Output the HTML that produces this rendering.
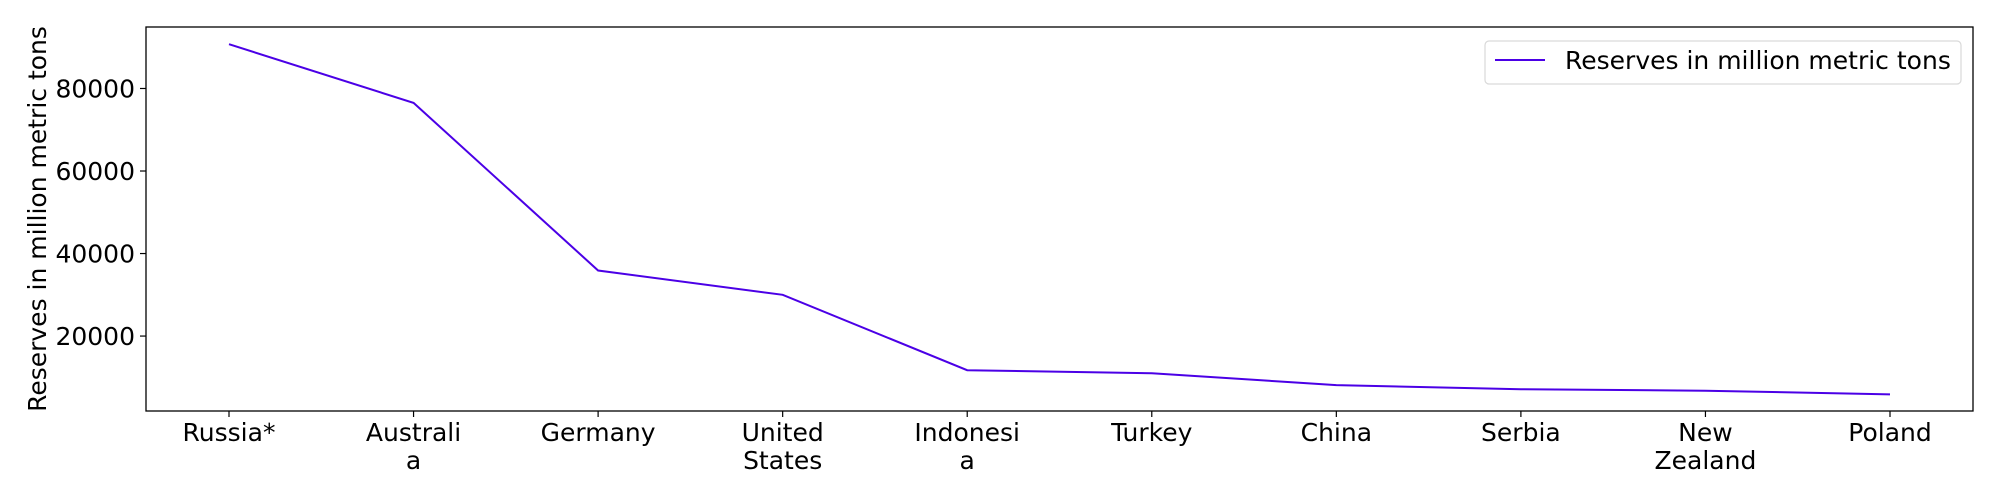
<!DOCTYPE html>
<html><head><meta charset="utf-8"><style>
body{margin:0;background:#fff;font-family:"DejaVu Sans","Liberation Sans",sans-serif;}
svg text{font-family:"DejaVu Sans","Liberation Sans",sans-serif;}
</style></head><body>
<svg id="chart" width="2000" height="500" xmlns="http://www.w3.org/2000/svg">
<rect x="0" y="0" width="2000" height="500" fill="#fff"/>
<g id="plot"></g>
</svg>
<script>
const categories=["Russia*","Australi\na","Germany","United\nStates","Indonesi\na","Turkey","China","Serbia","New\nZealand","Poland"];
const values=[90730,76508,35900,30003,11728,10975,8128,7112,6750,5865];
const yTicks=[20000,40000,60000,80000];
const yTickLabels=["20000","40000","60000","80000"];
const seriesName="Reserves in million metric tons";

const L=146,R=1973,T=27,B=411;
const x0=229,x1=1890;
const yMin=1840,yMax=94900;
function xs(i){return x0+(x1-x0)*i/(categories.length-1);}
function ys(v){return B-(v-yMin)/(yMax-yMin)*(B-T);}
const NS="http://www.w3.org/2000/svg";
const g=document.getElementById('plot');
function mk(tag,attrs,parent){const e=document.createElementNS(NS,tag);for(const k in attrs)e.setAttribute(k,attrs[k]);(parent||g).appendChild(e);return e;}

let d=values.map((v,i)=>(i?'L':'M')+xs(i).toFixed(1)+' '+ys(v).toFixed(1)).join(' ');
const line=mk('path',{d:d,fill:'none',stroke:'#4b00e6','stroke-width':2});



const fr=mk('rect',{x:L,y:T,width:R-L,height:B-T,fill:'none',stroke:'#000','stroke-width':1.3});



yTicks.forEach((v,i)=>{
  const y=ys(v);
  mk('line',{x1:L-6,x2:L,y1:y,y2:y,stroke:'#000','stroke-width':1.2});
  const t=mk('text',{x:L-11,y:y+9,'font-size':25,'text-anchor':'end',fill:'#000'});
  t.textContent=yTickLabels[i];
  
  
});
categories.forEach((c,i)=>{
  const x=xs(i);
  mk('line',{x1:x,x2:x,y1:B,y2:B+6,stroke:'#000','stroke-width':1.2});
  const t=mk('text',{x:x,y:B+30,'font-size':25,'text-anchor':'middle',fill:'#000'});
  
  
  c.split('\n').forEach((ln,j)=>{const s=mk('tspan',{x:x,dy:j?28:0},t);s.textContent=ln;});
});
const yt=mk('text',{x:0,y:0,'font-size':25,'text-anchor':'middle',fill:'#000',transform:'translate(46,219) rotate(-90)'});
yt.textContent="Reserves in million metric tons";



const lg=mk('g',{});


mk('rect',{x:1485,y:41,width:476,height:43,rx:4,fill:'#fff',stroke:'#d9d9d9','stroke-width':1.2},lg);
mk('line',{x1:1495,x2:1545,y1:60,y2:60,stroke:'#4b00e6','stroke-width':2},lg);
const lt=mk('text',{x:1565,y:69,'font-size':25,fill:'#000'},lg);
lt.textContent=seriesName;


</script>
</body></html>
